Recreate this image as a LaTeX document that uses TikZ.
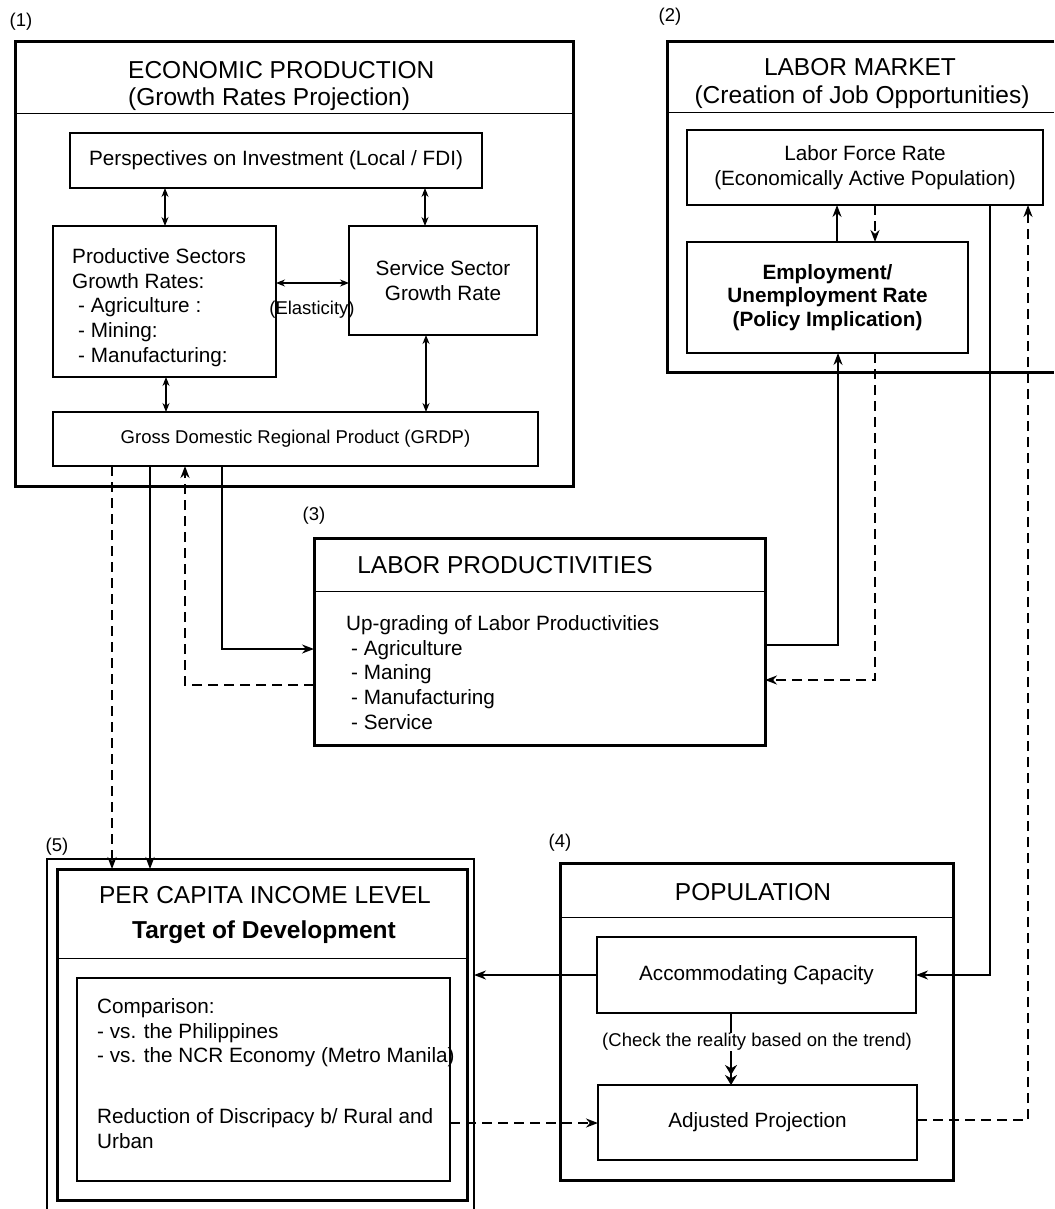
\documentclass[tikz,border=0pt]{standalone}
\usepackage{fontspec}
\setmainfont{Liberation Sans}
\usetikzlibrary{arrows.meta,calc}
\newcommand\ftitle{\fontsize{24.5}{27}\selectfont}
\newcommand\fbody{\fontsize{20.7}{24.8}\selectfont}
\newcommand\fbold{\fontsize{20.7}{23.2}\selectfont\bfseries}
\newcommand\fsmall{\fontsize{18.5}{22}\selectfont}
\begin{document}
\begin{tikzpicture}[x=1pt,y=-1pt,
  thickbox/.style={draw,line width=3pt,inner sep=0,outer sep=0},
  thinbox/.style={draw,line width=1.2pt,inner sep=0,outer sep=0},
  frame/.style={inner sep=0,outer sep=0},
  conn/.style={line width=1.6pt},
  sconn/.style={line width=1.1pt},
  dconn/.style={line width=2pt,dash pattern=on 10pt off 6pt},
  arr/.style={-{Stealth[length=12pt,width=9pt]}},
  darr/.style={{Stealth[length=9pt,width=7pt]}-{Stealth[length=9pt,width=7pt]}},
  lbl/.style={font=\fsmall,inner sep=0},
  ttl/.style={font=\ftitle,inner sep=0},
]
\useasboundingbox (0,0) rectangle (1054,1209);

% ---------- (1) ECONOMIC PRODUCTION ----------
\node[lbl] (n1) at (21,22) {(1)};
\node[thickbox,minimum width=558pt,minimum height=444pt] (b1) at (294,264) {};
\draw[line width=1pt] ([yshift=-72pt]b1.north west) -- ([yshift=-72pt]b1.north east);
\node[ttl,anchor=base west] (t1a) at (128,79) {ECONOMIC PRODUCTION};
\node[ttl,anchor=base west] (t1b) at (128,106) {(Growth Rates Projection)};
\node[thinbox,minimum width=412pt,minimum height=55pt,font=\fbody] (persp) at (276,160.5) {Perspectives on Investment (Local / FDI)};
\node[thinbox,minimum width=223pt,minimum height=151pt] (prod) at (164.5,301.5) {};
\node[font=\fbody,align=left,anchor=north west,inner sep=0] (prodtxt) at (72,248) {Productive Sectors\\Growth Rates:\\\hspace*{6pt}- Agriculture :\\\hspace*{6pt}- Mining:\\\hspace*{6pt}- Manufacturing:};
\node[thinbox,minimum width=188pt,minimum height=109pt,font=\fbody,align=center] (serv) at (443,280.5) {Service Sector\\Growth Rate};
\node[thinbox,minimum width=485pt,minimum height=54pt,font=\fsmall] (grdp) at (295.5,439) {Gross Domestic Regional Product (GRDP)};
\node[lbl] (elast) at (312,310) {(Elasticity)};
\draw[sconn,darr] (prod.east |- 0,283) -- (serv.west |- 0,283);
\draw[sconn,darr] (prod.north -| 165,0) -- (persp.south -| 165,0);
\draw[sconn,darr] (serv.north -| 425,0) -- (persp.south -| 425,0);
\draw[sconn,darr] (prod.south -| 166,0) -- (grdp.north -| 166,0);
\draw[conn,darr] (serv.south -| 426,0) -- (grdp.north -| 426,0);

% ---------- (2) LABOR MARKET ----------
\node[lbl] (n2) at (670,17) {(2)};
\node[frame,minimum width=387pt,minimum height=330pt] (b2) at (860.5,207) {};
\draw[line width=3pt] (b2.north east) -- (b2.north west) -- (b2.south west) -- (b2.south east);
\draw[line width=1pt] ([yshift=-71pt]b2.north west) -- ([yshift=-71pt]b2.north east);
\node[ttl] (t2a) at (860,67) {LABOR MARKET};
\node[ttl] (t2b) at (862,97) {(Creation of Job Opportunities)};
\node[thinbox,minimum width=356pt,minimum height=75pt,font=\fbody,align=center] (labor) at (865,167.5) {Labor Force Rate\\(Economically Active Population)};
\node[thinbox,minimum width=281pt,minimum height=111pt,font=\fbold,align=center] (employ) at (827.5,297.5) {Employment/\\Unemployment Rate\\(Policy Implication)};
\draw[conn,arr] (employ.north -| 837,0) -- (labor.south -| 837,0);
\draw[dconn,arr] (labor.south -| 875,0) -- (employ.north -| 875,0);

% ---------- (3) LABOR PRODUCTIVITIES ----------
\node[lbl] (n3) at (314,516) {(3)};
\node[thickbox,minimum width=451pt,minimum height=207pt] (b3) at (539.5,641.5) {};
\draw[line width=1pt] ([yshift=-53pt]b3.north west) -- ([yshift=-53pt]b3.north east);
\node[ttl] (t3) at (505,565) {LABOR PRODUCTIVITIES};
\node[font=\fbody,align=left,anchor=north west,inner sep=0] (b3txt) at (346,615) {Up-grading of Labor Productivities\\\hspace*{5pt}- Agriculture\\\hspace*{5pt}- Maning\\\hspace*{5pt}- Manufacturing\\\hspace*{5pt}- Service};
\draw[conn,arr] (grdp.south -| 222,0) |- (b3.west |- 0,649);
\draw[dconn,arr] (b3.west |- 0,685) -| (grdp.south -| 185,0);
\draw[conn,arr] (b3.east |- 0,645) -| (employ.south -| 838,0);
\draw[dconn,arr] (employ.south -| 875,0) |- (b3.east |- 0,680);

% ---------- (4) POPULATION ----------
\node[lbl] (n4) at (560,843) {(4)};
\node[thickbox,minimum width=393pt,minimum height=317pt] (b4) at (756.5,1021.5) {};
\draw[line width=1pt] ([yshift=-54pt]b4.north west) -- ([yshift=-54pt]b4.north east);
\node[ttl] (t4) at (753,892) {POPULATION};
\node[thinbox,minimum width=319pt,minimum height=76pt,font=\fbody] (acc) at (756.5,975) {Accommodating Capacity};
\node[thinbox,minimum width=319pt,minimum height=75pt,font=\fbody] (adj) at (757.5,1122.5) {Adjusted Projection};
\draw[line width=2pt,-{Stealth[length=10pt,width=12pt] Stealth[length=10pt,width=12pt]}] (acc.south -| 731,0) -- (adj.north -| 731,0);
\node[lbl,fill=white] (check) at (757,1042) {(Check the reality based on the trend)};
\draw[conn,arr] (labor.south -| 990,0) |- (acc.east);
\draw[dconn,arr] (adj.east |- 0,1120) -| (labor.south -| 1028,0);

% ---------- (5) PER CAPITA INCOME ----------
\node[lbl] (n5) at (57,847) {(5)};
\node[frame,minimum width=427pt,minimum height=350pt] (b5o) at (260.5,1034) {};
\draw[line width=1.2pt] (b5o.south west) -- (b5o.north west) -- (b5o.north east) -- (b5o.south east);
\node[thickbox,minimum width=410pt,minimum height=331pt] (b5) at (262,1034.5) {};
\draw[line width=1pt] ([yshift=-89pt]b5.north west) -- ([yshift=-89pt]b5.north east);
\node[ttl] (t5a) at (265,895) {PER CAPITA INCOME LEVEL};
\node[ttl,font=\ftitle\bfseries] (t5b) at (264,932) {Target of Development};
\node[thinbox,minimum width=373pt,minimum height=203pt] (b5in) at (263.5,1079.5) {};
\node[font=\fbody,align=left,anchor=north west,inner sep=0] (b5txt) at (97,998) {Comparison:\\- vs. the Philippines\\- vs. the NCR Economy (Metro Manila)\\[35.6pt]Reduction of Discripacy b/ Rural and\\Urban};

\draw[dconn,arr] (grdp.south -| 112,0) -- (b5.north -| 112,0);
\draw[conn,arr] (grdp.south -| 150,0) -- (b5.north -| 150,0);
\draw[conn,arr] (acc.west) -- (acc.west -| b5o.east);
\draw[dconn,arr] (b5in.east |- 0,1123) -- (adj.west |- 0,1123);
\end{tikzpicture}
\end{document}
